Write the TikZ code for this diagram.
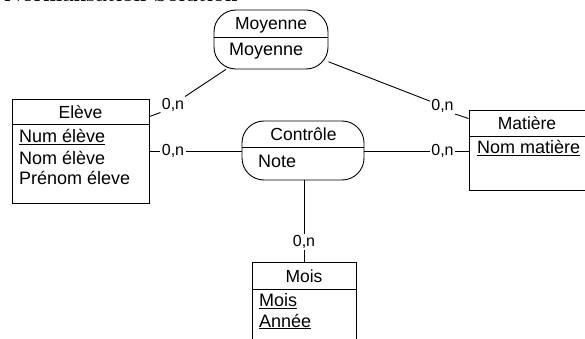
\documentclass[tikz,border=0pt]{standalone}
\usepackage{fontspec}
\setsansfont{Liberation Sans}
\usetikzlibrary{calc}
\tikzset{
  ln/.style={line width=0.9pt},
  ent/.style={draw, line width=0.9pt, rectangle, inner sep=0pt},
  asso/.style={draw, line width=0.9pt, rectangle, rounded corners=22pt, inner sep=0pt},
  ttl/.style={inner sep=0pt, font=\sffamily\fontsize{17.5}{20}\selectfont},
  attr/.style={inner sep=0pt, anchor=west, font=\sffamily\fontsize{18}{21}\selectfont},
  card/.style={inner sep=1.2pt, font=\sffamily\fontsize{16}{19}\selectfont},
}
\newcommand{\ul}[1]{\underline{#1}}
\begin{document}
\begin{tikzpicture}[x=1pt,y=-1pt]
\useasboundingbox (0,0) rectangle (585,339);
\clip (0,0) rectangle (585,339);
% top clipped title
\node[anchor=base west, inner sep=0pt, font=\bfseries\fontsize{20.5}{24}\selectfont] (toptxt) at (4,2) {Normalisation Solution};
% Moyenne association
\node[asso, minimum width=114pt, minimum height=59pt] (moy) at (271,39.5) {};
\draw[ln] (moy.west |- 0,37) -- (moy.east |- 0,37);
\node[ttl] (moyT) at (271,25) {Moyenne};
\node[attr] (moyA) at (229,51) {Moyenne};
% Eleve entity
\node[ent, minimum width=137pt, minimum height=104pt] (eleve) at (80.5,151) {};
\draw[ln] (eleve.west |- 0,124) -- (eleve.east |- 0,124);
\node[ttl] (eleveT) at (80.5,112.5) {Elève};
\node[attr] (eleveA1) at (19,137) {\ul{Num élève}};
\node[attr] (eleveA2) at (19,157.5) {Nom élève};
\node[attr] (eleveA3) at (19,177.5) {Prénom éleve};
% Controle association
\node[asso, minimum width=122pt, minimum height=59pt] (ctrl) at (303,150.5) {};
\draw[ln] (ctrl.west |- 0,147) -- (ctrl.east |- 0,147);
\node[ttl] (ctrlT) at (303.5,134.5) {Contrôle};
\node[attr] (ctrlA) at (258,161.5) {Note};
% Matiere entity
\node[ent, minimum width=117pt, minimum height=80pt] (mat) at (527.5,150) {};
\draw[ln] (mat.west |- 0,136) -- (mat.east |- 0,136);
\node[ttl] (matT) at (527,123) {Matière};
\node[attr] (matA) at (477,148) {\ul{Nom matière}};
% Mois entity
\node[ent, minimum width=104pt, minimum height=90pt] (mois) at (304,307) {};
\draw[ln] (mois.west |- 0,289) -- (mois.east |- 0,289);
\node[ttl] (moisT) at (304,276) {Mois};
\node[attr] (moisA1) at (259,301) {\ul{Mois}};
\node[attr] (moisA2) at (259,321.5) {\ul{Année}};
% cardinality labels
\node[card] (c1) at (173,104.5) {0,n};
\node[card] (c2) at (442.5,106) {0,n};
\node[card] (c3) at (173,151) {0,n};
\node[card] (c4) at (442.5,151) {0,n};
\node[card] (c5) at (304,242) {0,n};
% connectors
\draw[ln] (moy) -- (c1);
\draw[ln] (c1.south west) -- ($(eleve.north east)+(0,18)$);
\draw[ln] (moy) -- (c2);
\draw[ln] (c2.south east) -- ($(mat.north west)+(0,9)$);
\draw[ln] (eleve.east |- c3) -- (c3) -- (ctrl.west |- c3);
\draw[ln] (ctrl.east |- c4) -- (c4) -- (mat.west |- c4);
\draw[ln] (ctrl.south -| c5) -- (c5) -- (mois.north -| c5);
\end{tikzpicture}
\end{document}
